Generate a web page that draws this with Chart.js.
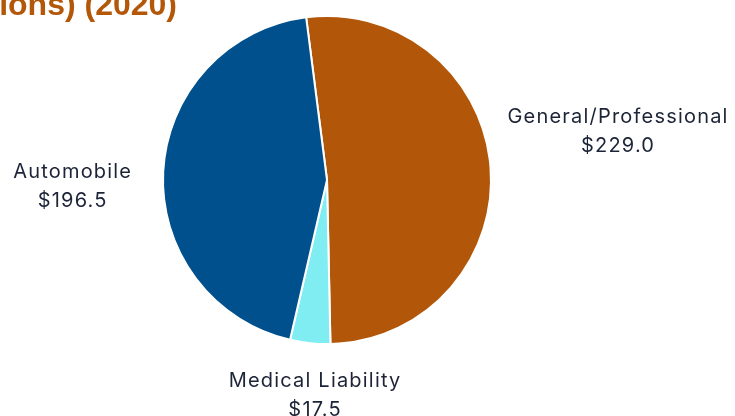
<!DOCTYPE html>
<html>
<head>
<meta charset="utf-8">
<script src="https://cdn.jsdelivr.net/npm/chart.js@4"></script>
<style>
  html, body { margin: 0; padding: 0; background: #fff; }
  #wrap { width: 735px; height: 416px; position: relative; }
</style>
</head>
<body>
<div id="wrap"><canvas id="chart"></canvas></div>
<script>
const categories = ['General/Professional', 'Medical Liability', 'Automobile'];
const premiums = [229.0, 17.5, 196.5];
const sliceColors = ['#B2570A', '#80EDF2', '#00508E'];
const titleText = 'Premiums Written (Billions) (2020)';

// per-label nudge [dx, dy] relative to the arc's outer edge point
const labelNudge = [[-3, -35], [7, 8], [-11, 15]];

const outerLabels = {
  id: 'outerLabels',
  afterDatasetsDraw(chart) {
    const ctx = chart.ctx;
    const meta = chart.getDatasetMeta(0);
    ctx.save();
    ctx.fillStyle = '#1c2437';
    ctx.font = '20px Inter, "Open Sans", sans-serif';
    ctx.letterSpacing = '1.2px';
    ctx.textBaseline = 'middle';
    meta.data.forEach((arc, i) => {
      const mid = (arc.startAngle + arc.endAngle) / 2;
      const cos = Math.cos(mid), sin = Math.sin(mid);
      const r = arc.outerRadius + 20;
      let x = arc.x + cos * r + labelNudge[i][0];
      let y = arc.y + sin * r + labelNudge[i][1];
      const lines = [categories[i], '$' + premiums[i].toFixed(1)];
      const w = Math.max(...lines.map(l => ctx.measureText(l).width));
      let cx;
      if (Math.abs(cos) > Math.abs(sin)) {
        cx = cos > 0 ? x + w / 2 : x - w / 2;
        y = y - 14;
      } else {
        cx = x;
        y = sin > 0 ? y + 10 : y - 38;
      }
      ctx.textAlign = 'center';
      lines.forEach((l, k) => ctx.fillText(l, cx, y + k * 29));
    });
    ctx.restore();
  }
};

const cutTitle = {
  id: 'cutTitle',
  afterDraw(chart) {
    const ctx = chart.ctx;
    ctx.save();
    ctx.fillStyle = '#B35709';
    ctx.font = 'bold 32px "Liberation Sans", Arial, sans-serif';
    ctx.textAlign = 'right';
    ctx.textBaseline = 'alphabetic';
    ctx.fillText(titleText, 177, 15);
    ctx.restore();
  }
};

new Chart(document.getElementById('chart'), {
  type: 'pie',
  data: {
    labels: categories,
    datasets: [{
      data: premiums,
      backgroundColor: sliceColors,
      borderColor: '#ffffff',
      borderWidth: 2
    }]
  },
  options: {
    responsive: true,
    maintainAspectRatio: false,
    animation: false,
    rotation: -7.3,
    layout: { padding: { top: 15, bottom: 71, left: 0, right: 81 } },
    plugins: {
      legend: { display: false },
      tooltip: { enabled: false }
    }
  },
  plugins: [outerLabels, cutTitle]
});
</script>
</body>
</html>
